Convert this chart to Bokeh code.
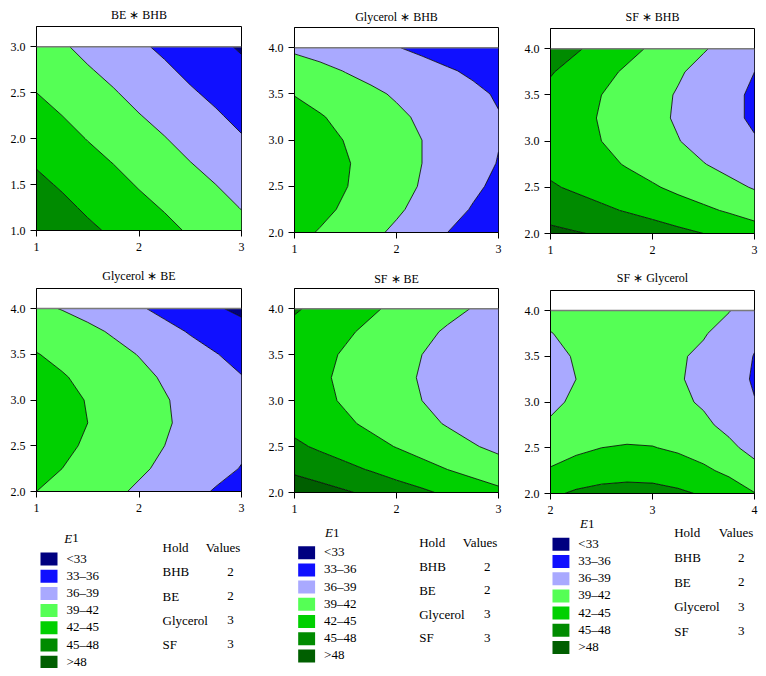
from bokeh.plotting import figure
from bokeh.layouts import row, column
from bokeh.models import Range1d, Span, FixedTicker, PrintfTickFormatter
from bokeh.embed import file_html
from bokeh.resources import INLINE
from bokeh.core.properties import value

FONT = "Liberation Serif"

# ---- data -------------------------------------------------------------
levels = [20, 33, 36, 39, 42, 45, 48, 60]
bin_colors = ["#000080", "#1010ff", "#a9a9ff", "#55ff55", "#00d000", "#008b00", "#005f00"]
bin_labels = ["<33", "33\u201336", "36\u201339", "39\u201342", "42\u201345", "45\u201348", ">48"]
hold_names = ["BHB", "BE", "Glycerol", "SF"]
hold_values = [2, 2, 3, 3]

bhb_nodes = [1.0, 1.25, 1.5, 1.75, 2.0, 2.25, 2.5, 2.75, 3.0]
be_nodes = [1.0, 1.25, 1.5, 1.75, 2.0, 2.25, 2.5, 2.75, 3.0]
glycerol_nodes = [2.0, 2.25, 2.5, 2.75, 3.0, 3.25, 3.5, 3.75, 4.0]
sf_nodes = [2.0, 2.25, 2.5, 2.75, 3.0, 3.25, 3.5, 3.75, 4.0]

# E1 (rows: second factor, bottom to top; columns: first factor)
E1_BE_BHB = [
    [47.4, 46.5, 45.5, 44.6, 43.6, 42.7, 41.7, 40.8, 39.8],
    [46.5, 45.6, 44.6, 43.7, 42.7, 41.8, 40.8, 39.9, 38.9],
    [45.6, 44.7, 43.7, 42.8, 41.8, 40.9, 39.9, 39.0, 38.0],
    [44.7, 43.8, 42.8, 41.9, 40.9, 40.0, 39.0, 38.1, 37.1],
    [43.8, 42.9, 41.9, 41.0, 40.0, 39.1, 38.1, 37.2, 36.2],
    [42.9, 42.0, 41.0, 40.1, 39.1, 38.2, 37.2, 36.3, 35.3],
    [42.0, 41.1, 40.1, 39.2, 38.2, 37.3, 36.3, 35.4, 34.5],
    [41.1, 40.2, 39.2, 38.3, 37.3, 36.4, 35.4, 34.5, 33.6],
    [40.2, 39.3, 38.3, 37.4, 36.4, 35.5, 34.5, 33.6, 32.7],
]
E1_GLY_BHB = [
    [42.8, 41.8, 40.8, 39.6, 38.5, 37.2, 36.0, 34.7, 33.5],
    [43.7, 42.7, 41.6, 40.5, 39.4, 38.2, 37.0, 35.8, 34.6],
    [44.1, 43.1, 42.1, 41.0, 39.9, 38.8, 37.6, 36.5, 35.4],
    [44.2, 43.2, 42.2, 41.2, 40.1, 39.0, 38.0, 36.9, 35.9],
    [43.8, 42.9, 41.9, 41.0, 40.0, 39.0, 38.0, 37.0, 36.1],
    [43.0, 42.2, 41.3, 40.4, 39.5, 38.6, 37.7, 36.9, 36.1],
    [41.9, 41.1, 40.3, 39.5, 38.7, 37.9, 37.1, 36.4, 35.8],
    [40.4, 39.7, 38.9, 38.2, 37.5, 36.9, 36.2, 35.7, 35.2],
    [38.5, 37.9, 37.3, 36.7, 36.1, 35.5, 35.1, 34.7, 34.3],
]
E1_SF_BHB = [
    [48.7, 48.2, 47.7, 47.1, 46.4, 45.7, 45.0, 44.2, 43.4],
    [46.8, 46.2, 45.5, 44.8, 44.1, 43.3, 42.5, 41.7, 40.8],
    [45.3, 44.6, 43.9, 43.1, 42.3, 41.4, 40.6, 39.7, 38.8],
    [44.3, 43.5, 42.7, 41.8, 40.9, 40.0, 39.1, 38.2, 37.2],
    [43.8, 42.9, 42.0, 41.0, 40.1, 39.1, 38.1, 37.2, 36.2],
    [43.8, 42.8, 41.8, 40.8, 39.7, 38.7, 37.7, 36.6, 35.6],
    [44.3, 43.2, 42.0, 40.9, 39.8, 38.8, 37.7, 36.6, 35.6],
    [45.2, 44.0, 42.8, 41.6, 40.5, 39.3, 38.2, 37.1, 36.0],
    [46.6, 45.3, 44.1, 42.8, 41.6, 40.4, 39.2, 38.1, 37.0],
]
E1_GLY_BE = [
    [42.0, 41.2, 40.4, 39.5, 38.6, 37.6, 36.7, 35.8, 35.0],
    [42.8, 42.0, 41.2, 40.3, 39.4, 38.5, 37.5, 36.7, 35.9],
    [43.2, 42.5, 41.7, 40.9, 39.9, 39.0, 38.1, 37.2, 36.4],
    [43.4, 42.7, 42.0, 41.1, 40.2, 39.3, 38.3, 37.5, 36.7],
    [43.3, 42.6, 41.9, 41.0, 40.1, 39.2, 38.2, 37.4, 36.5],
    [42.9, 42.2, 41.4, 40.6, 39.7, 38.7, 37.8, 36.9, 36.1],
    [42.1, 41.4, 40.7, 39.8, 38.9, 37.9, 37.0, 36.1, 35.2],
    [41.0, 40.3, 39.6, 38.7, 37.8, 36.8, 35.8, 34.9, 34.0],
    [39.5, 38.9, 38.1, 37.2, 36.3, 35.3, 34.3, 33.3, 32.4],
]
E1_SF_BE = [
    [50.0, 49.2, 48.3, 47.4, 46.4, 45.5, 44.5, 43.6, 42.7],
    [47.4, 46.5, 45.7, 44.8, 43.8, 42.9, 42.0, 41.1, 40.2],
    [45.5, 44.6, 43.7, 42.8, 41.9, 41.0, 40.1, 39.2, 38.4],
    [44.2, 43.3, 42.4, 41.5, 40.6, 39.7, 38.8, 38.0, 37.2],
    [43.5, 42.6, 41.7, 40.8, 39.9, 39.0, 38.1, 37.3, 36.5],
    [43.3, 42.4, 41.5, 40.6, 39.7, 38.8, 37.9, 37.1, 36.3],
    [43.6, 42.7, 41.7, 40.8, 39.9, 39.0, 38.1, 37.3, 36.6],
    [44.2, 43.3, 42.4, 41.4, 40.5, 39.6, 38.7, 37.9, 37.2],
    [45.3, 44.3, 43.3, 42.4, 41.4, 40.5, 39.7, 38.9, 38.1],
]
E1_SF_GLY = [
    [44.5, 45.4, 45.9, 46.1, 46.0, 45.5, 44.7, 43.6, 42.1],
    [42.3, 43.2, 43.7, 43.9, 43.8, 43.3, 42.5, 41.4, 39.9],
    [40.5, 41.4, 42.0, 42.2, 42.1, 41.6, 40.8, 39.6, 38.1],
    [39.3, 40.2, 40.7, 40.9, 40.8, 40.3, 39.5, 38.3, 36.9],
    [38.5, 39.4, 39.9, 40.1, 40.0, 39.5, 38.7, 37.6, 36.1],
    [38.1, 39.0, 39.6, 39.8, 39.7, 39.2, 38.4, 37.2, 35.7],
    [38.3, 39.2, 39.7, 39.9, 39.8, 39.3, 38.5, 37.4, 35.9],
    [38.9, 39.8, 40.4, 40.6, 40.4, 40.0, 39.2, 38.0, 36.5],
    [40.0, 40.9, 41.5, 41.7, 41.5, 41.1, 40.3, 39.1, 37.6],
]

ticks_1_3 = [1, 2, 3]
ticks_2_4 = [2, 3, 4]
yticks_1_3 = [1.0, 1.5, 2.0, 2.5, 3.0]
yticks_2_4 = [2.0, 2.5, 3.0, 3.5, 4.0]


# ---- drawing ----------------------------------------------------------
def panel(title, xs, ys, Z, xticks, yticks, width, height, bl, br, bt, standoff):
    p = figure(width=width, height=height, x_range=Range1d(xs[0], xs[-1]),
               y_range=Range1d(ys[0], ys[0] + 1.11 * (ys[-1] - ys[0])), toolbar_location=None,
               output_backend="svg", min_border_left=bl, min_border_right=br,
               min_border_top=bt, min_border_bottom=height - bt - 205, title=title)
    p.contour(x=xs, y=ys, z=Z, levels=levels, fill_color=bin_colors,
              line_color="black", line_width=0.8)
    p.add_layout(Span(location=ys[-1], dimension="width", line_color="#7a7a7a", line_width=1.5))
    p.grid.visible = False
    p.outline_line_color = "black"
    p.background_fill_color = "white"
    p.border_fill_color = "white"
    p.title.text_font = FONT
    p.title.text_font_style = "normal"
    p.title.text_font_size = "12px"
    p.title.text_color = "black"
    p.title.align = "center"
    p.title.standoff = standoff
    p.xaxis.ticker = FixedTicker(ticks=xticks)
    p.yaxis.ticker = FixedTicker(ticks=yticks)
    p.xaxis.formatter = PrintfTickFormatter(format="%d")
    p.yaxis.formatter = PrintfTickFormatter(format="%.1f")
    for ax in (p.xaxis[0], p.yaxis[0]):
        ax.major_label_text_font = FONT
        ax.major_label_text_font_size = "12px"
        ax.major_label_text_color = "black"
        ax.axis_line_color = "black"
        ax.major_tick_line_color = "black"
        ax.minor_tick_line_color = None
        ax.major_tick_out = 6
        ax.major_tick_in = 0
    p.xaxis.major_label_standoff = 6
    p.yaxis.major_label_standoff = 5
    return p


def legend_fig(width, height, bl, br, sw_x, sw_top, e1_x, e1_y, hold_x, hold_y, head_x, val_x, row0, pitch):
    # frame is aligned with the panels above it; data units equal pixels of the figure
    p = figure(width=width, height=height, x_range=Range1d(bl, width - br), y_range=Range1d(height, 0),
               toolbar_location=None, output_backend="svg", min_border_left=bl, min_border_right=br,
               min_border_top=0, min_border_bottom=0, x_axis_location=None, y_axis_location=None)
    p.grid.visible = False
    p.outline_line_color = None
    sw_pitch, sw_w, sw_h = 17.2, 17, 13
    sy = [sw_top + sw_h / 2 + i * sw_pitch for i in range(len(bin_colors))]
    p.rect(x=[sw_x + sw_w / 2] * len(bin_colors), y=sy, width=sw_w, height=sw_h,
           fill_color=bin_colors, line_color=None)
    tk = dict(text_font=value(FONT), text_font_size="13px", text_baseline="middle", text_color="black")
    p.text(x=[sw_x + sw_w + 9] * len(bin_labels), y=[y - 1 for y in sy], text=bin_labels,
           text_align="left", **tk)
    p.text(x=[e1_x], y=[e1_y], text=["E"], text_align="right", text_font_style="italic", **tk)
    p.text(x=[e1_x], y=[e1_y], text=["1"], text_align="left", **tk)
    p.text(x=[hold_x], y=[hold_y], text=["Hold"], text_align="left", **tk)
    p.text(x=[head_x], y=[hold_y], text=["Values"], text_align="center", **tk)
    ry = [row0 + i * pitch for i in range(len(hold_names))]
    p.text(x=[hold_x] * len(hold_names), y=ry, text=hold_names, text_align="left", **tk)
    p.text(x=[val_x] * len(hold_values), y=ry, text=[str(v) for v in hold_values], text_align="center", **tk)
    return p


p1 = panel("BE \u2217 BHB", bhb_nodes, be_nodes, E1_BE_BHB, ticks_1_3, yticks_1_3, 265, 260, 36, 24, 25, 10)
p2 = panel("Glycerol \u2217 BHB", bhb_nodes, glycerol_nodes, E1_GLY_BHB, ticks_1_3, yticks_2_4, 256, 260, 28, 23, 27, 8)
p3 = panel("SF \u2217 BHB", bhb_nodes, sf_nodes, E1_SF_BHB, ticks_1_3, yticks_2_4, 237, 260, 28, 4, 28, 10)
p4 = panel("Glycerol \u2217 BE", be_nodes, glycerol_nodes, E1_GLY_BE, ticks_1_3, yticks_2_4, 265, 255, 36, 24, 26, 12)
p5 = panel("SF \u2217 BE", be_nodes, sf_nodes, E1_SF_BE, ticks_1_3, yticks_2_4, 256, 255, 28, 23, 28, 6)
p6 = panel("SF \u2217 Glycerol", glycerol_nodes, sf_nodes, E1_SF_GLY, ticks_2_4, yticks_2_4, 237, 256, 28, 4, 30, 12)

l1 = legend_fig(265, 153, 36, 24, 40, 37, 71.7, 22.7, 162, 31.7, 222.5, 230, 56.3, 24.2)
l2 = legend_fig(256, 153, 28, 23, 31.7, 30.7, 66.7, 17.3, 153.3, 26.7, 214.5, 221.7, 51, 23.8)
l3 = legend_fig(237, 152, 28, 4, 30, 21.3, 65.7, 7.3, 152.3, 16.3, 214.5, 219.7, 41.3, 24.4)

root = row(column(p1, p4, l1), column(p2, p5, l2), column(p3, p6, l3))
open("out.html", "w").write(file_html(root, INLINE))
